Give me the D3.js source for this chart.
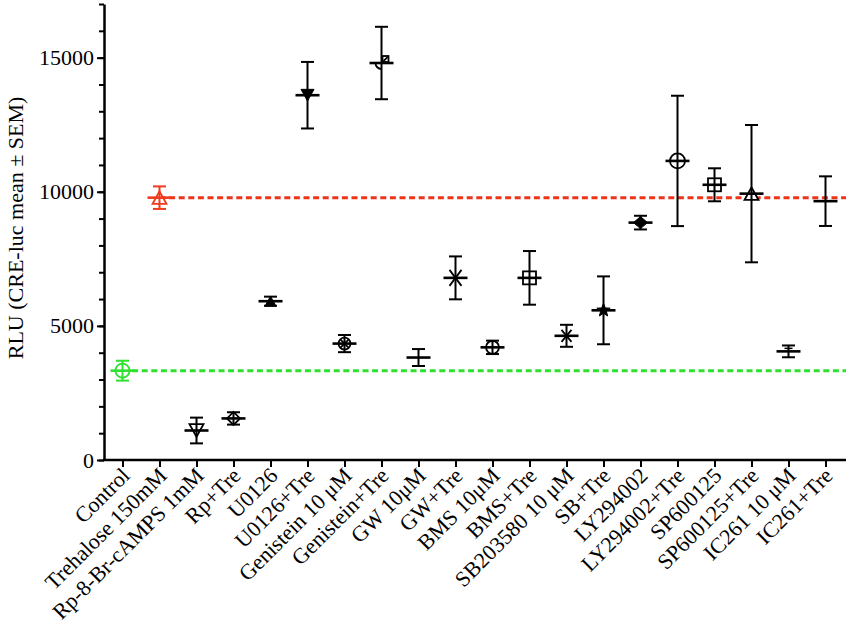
<!DOCTYPE html>
<html>
<head>
<meta charset="utf-8">
<script src="https://cdn.jsdelivr.net/npm/d3@7"></script>
<style>
  html, body { margin: 0; padding: 0; background: #fff; }
  svg { display: block; }
  text { font-family: "Liberation Serif", "Times New Roman", serif; }
</style>
</head>
<body>
<svg id="chart" width="850" height="629"></svg>
<script>
// ---- Data ----
const categories = ["Control", "Trehalose 150mM", "Rp-8-Br-cAMPS 1mM", "Rp+Tre", "U0126", "U0126+Tre",
  "Genistein 10 \u03bcM", "Genistein+Tre", "GW 10\u03bcM", "GW+Tre", "BMS 10\u03bcM", "BMS+Tre",
  "SB203580 10 \u03bcM", "SB+Tre", "LY294002", "LY294002+Tre", "SP600125", "SP600125+Tre",
  "IC261 10 \u03bcM", "IC261+Tre"];
const means = [3330, 9780, 1100, 1550, 5920, 13600, 4340, 14800, 3820, 6790,
  4200, 6790, 4630, 5580, 8850, 11150, 10260, 9930, 4050, 9650];
const sems = [370, 420, 480, 230, 170, 1240, 320, 1350, 316, 800,
  250, 1000, 410, 1265, 255, 2430, 615, 2560, 220, 925];
const markers = ["circle", "triangle", "triangleDown", "diamond", "triangleFilled", "triangleDownFilled",
  "circleAsterisk", "halfCircleSquare", "none", "asterisk", "circleSmall", "square",
  "asteriskSmall", "starFilled", "diamondFilled", "circleLarge", "square", "triangle", "tiny", "none"];
const yMajorTicks = [0, 5000, 10000, 15000];
const yMinorTicks = d3.range(0, 17001, 1000);
const refLines = [{idx: 0, color: "#2fe02f"}, {idx: 1, color: "#ee3319"}];
const colorFor = i => i === 0 ? "#2fe02f" : (i === 1 ? "#f03a1e" : "#000");

// ---- Layout ----
const svg = d3.select("#chart");
const x = d3.scalePoint().domain(categories).range([104, 844]).padding(0.5);
const y = d3.scaleLinear().domain([0, 17000]).range([460, 4]);

// Reference dashed lines
refLines.forEach(r => {
  svg.append("line")
    .attr("x1", x(categories[r.idx])).attr("x2", 846)
    .attr("y1", y(means[r.idx])).attr("y2", y(means[r.idx]))
    .attr("stroke", r.color).attr("stroke-width", 3)
    .attr("stroke-dasharray", "6,3.6");
});

// Axes
const yMinor = svg.append("g").attr("transform", "translate(104,0)")
  .call(d3.axisLeft(y).tickValues(yMinorTicks).tickSize(5).tickFormat(""));
yMinor.selectAll("line").attr("stroke-width", 2);
yMinor.select(".domain").remove();

const yAxis = svg.append("g").attr("transform", "translate(104,0)")
  .call(d3.axisLeft(y).tickValues(yMajorTicks).tickSize(7).tickPadding(3).tickSizeOuter(0).tickFormat(d3.format("d")));
yAxis.select(".domain").attr("stroke-width", 2.5);
yAxis.selectAll("line").attr("stroke-width", 2);
yAxis.selectAll("text").attr("font-size", 22).attr("fill", "#000")
  .attr("font-family", "'Liberation Serif', serif");

const xAxis = svg.append("g").attr("transform", "translate(0,460)")
  .call(d3.axisBottom(x).tickSize(7).tickSizeOuter(0));
xAxis.select(".domain").attr("stroke-width", 2.5).attr("d", "M103,0H846");
xAxis.selectAll("line").attr("stroke-width", 2);
xAxis.selectAll("text")
  .attr("font-size", 22).attr("fill", "#000")
  .attr("font-family", "'Liberation Serif', serif")
  .attr("text-anchor", "end")
  .attr("y", 0).attr("dy", 0)
  .attr("transform", "translate(8,17) rotate(-45)");

// Y title
svg.append("text")
  .attr("transform", "translate(23,228) rotate(-90)")
  .attr("text-anchor", "middle")
  .attr("font-size", 22)
  .text("RLU (CRE-luc mean \u00b1 SEM)");

// Marker shapes
function triPath(s, down) {
  const h = s * 0.9;
  return down
    ? `M${-s / 2},${-h / 2}L${s / 2},${-h / 2}L0,${h / 2}Z`
    : `M${-s / 2},${h / 2}L${s / 2},${h / 2}L0,${-h / 2}Z`;
}
function drawMarker(g, type, color) {
  const sw = 1.8;
  switch (type) {
    case "circle":
      g.append("circle").attr("r", 7).attr("fill", "#fff").attr("stroke", color).attr("stroke-width", sw); break;
    case "circleSmall":
      g.append("circle").attr("r", 6.5).attr("fill", "#fff").attr("stroke", color).attr("stroke-width", sw); break;
    case "circleLarge":
      g.append("circle").attr("r", 7.5).attr("fill", "#fff").attr("stroke", color).attr("stroke-width", sw); break;
    case "triangle":
      g.append("path").attr("d", triPath(14, false)).attr("fill", "#fff").attr("stroke", color).attr("stroke-width", sw); break;
    case "triangleDown":
      g.append("path").attr("d", triPath(14, true)).attr("fill", "#fff").attr("stroke", color).attr("stroke-width", sw); break;
    case "triangleFilled":
      g.append("path").attr("d", triPath(11, false)).attr("fill", color).attr("stroke", color).attr("stroke-width", 1); break;
    case "triangleDownFilled":
      g.append("path").attr("d", triPath(13, true)).attr("fill", color).attr("stroke", color).attr("stroke-width", 1); break;
    case "diamond":
      g.append("path").attr("d", "M0,-6.5L6.5,0L0,6.5L-6.5,0Z").attr("fill", "#fff").attr("stroke", color).attr("stroke-width", sw); break;
    case "diamondFilled":
      g.append("path").attr("d", "M0,-6L7,0L0,6L-7,0Z").attr("fill", color).attr("stroke", color).attr("stroke-width", 1); break;
    case "square":
      g.append("rect").attr("x", -6.5).attr("y", -6.5).attr("width", 13).attr("height", 13)
        .attr("fill", "#fff").attr("stroke", color).attr("stroke-width", sw); break;
    case "circleAsterisk":
      g.append("circle").attr("r", 6).attr("fill", "#fff").attr("stroke", color).attr("stroke-width", sw);
      g.append("path").attr("d", "M-4,-4L4,4M-4,4L4,-4").attr("stroke", color).attr("stroke-width", 1.8); break;
    case "halfCircleSquare":
      g.append("path").attr("d", "M-6,0A6,6 0 0 0 0,6").attr("fill", "none").attr("stroke", color).attr("stroke-width", sw);
      g.append("rect").attr("x", 1).attr("y", -7).attr("width", 6).attr("height", 6)
        .attr("fill", "#fff").attr("stroke", color).attr("stroke-width", sw);
      g.append("path").attr("d", "M0,0L6,-6").attr("stroke", color).attr("stroke-width", sw); break;
    case "asterisk":
      g.append("path").attr("d", "M-6,-8L6,8M-6,8L6,-8").attr("stroke", color).attr("stroke-width", 1.8); break;
    case "asteriskSmall":
      g.append("path").attr("d", "M-5,-6L5,6M-5,6L5,-6").attr("stroke", color).attr("stroke-width", 1.8); break;
    case "starFilled": {
      const pts = d3.range(10).map(k => {
        const r = k % 2 === 0 ? 7 : 3;
        const a = -Math.PI / 2 + k * Math.PI / 5;
        return [r * Math.cos(a), r * Math.sin(a)];
      });
      g.append("path").attr("d", "M" + pts.join("L") + "Z").attr("fill", color).attr("stroke", color).attr("stroke-width", 1);
      break;
    }
    case "tiny":
      g.append("path").attr("d", "M-4,-3L4,-3").attr("stroke", color).attr("stroke-width", 1.5); break;
    default: break;
  }
}

// Points with error bars
const capW = 13, meanW = 24;
categories.forEach((c, i) => {
  const cx = x(c), cy = y(means[i]);
  const col = colorFor(i);
  const g = svg.append("g");
  const mg = g.append("g").attr("transform", `translate(${cx},${cy})`);
  drawMarker(mg, markers[i], col);
  const yt = y(means[i] + sems[i]), yb = y(means[i] - sems[i]);
  g.append("line").attr("x1", cx).attr("x2", cx).attr("y1", yt).attr("y2", yb)
    .attr("stroke", col).attr("stroke-width", 2);
  [yt, yb].forEach(yy => g.append("line")
    .attr("x1", cx - capW / 2).attr("x2", cx + capW / 2).attr("y1", yy).attr("y2", yy)
    .attr("stroke", col).attr("stroke-width", 2));
  g.append("line").attr("x1", cx - meanW / 2).attr("x2", cx + meanW / 2).attr("y1", cy).attr("y2", cy)
    .attr("stroke", col).attr("stroke-width", 2.6);
});
</script>
</body>
</html>
